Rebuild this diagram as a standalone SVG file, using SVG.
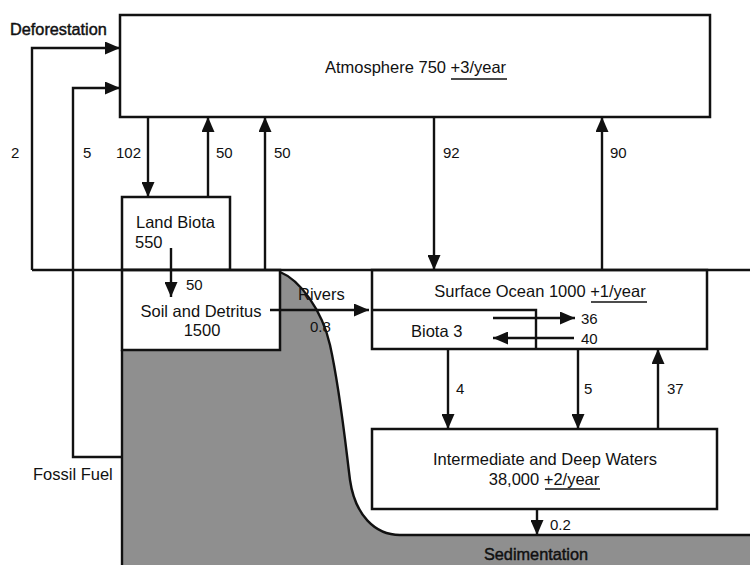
<svg xmlns="http://www.w3.org/2000/svg" width="750" height="565" viewBox="0 0 750 565">
<style>
.box{fill:#fff;stroke:#111;stroke-width:2.5}
.ln{fill:none;stroke:#111;stroke-width:2.4}
.t{font-family:"Liberation Sans",Arial,sans-serif;font-size:16.5px;fill:#111}
.n{font-family:"Liberation Sans",Arial,sans-serif;font-size:15px;fill:#111}
.b{font-family:"Liberation Sans",Arial,sans-serif;font-size:16.3px;fill:#111;stroke:#111;stroke-width:0.45}
.m{text-anchor:middle}
</style>
<defs>
<marker id="ah" markerUnits="userSpaceOnUse" viewBox="0 0 15 13" refX="15" refY="6.5" markerWidth="15" markerHeight="13" orient="auto">
<path d="M0,0 L15,6.5 L0,13 Z" fill="#111"/>
</marker>
</defs>
<rect width="750" height="565" fill="#fff"/>

<g id="ground">
<path d="M280,272 C300,280 322,310 330,345 C340,390 345,440 350,480 C355,515 375,535 400,535 L750,535 L750,565 L122,565 L122,350 L280,350 Z" fill="#8f8f8f"/>
<path class="ln" d="M280,272 C300,280 322,310 330,345 C340,390 345,440 350,480 C355,515 375,535 400,535 L750,535"/>
<line class="ln" x1="122" y1="350" x2="122" y2="565"/>
<text class="b m" x="536" y="560">Sedimentation</text>
</g>

<g id="atmosphere">
<rect class="box" x="120" y="15" width="590" height="102"/>
<text class="t m" x="415.5" y="73">Atmosphere 750 +3/year</text>
<line x1="451" y1="79" x2="507" y2="79" stroke="#111" stroke-width="1.5"/>
</g>

<g id="land-biota">
<rect class="box" x="122" y="197" width="108" height="73"/>
<text class="t" x="136" y="228">Land Biota</text>
<text class="t" x="135" y="248">550</text>
</g>

<g id="soil">
<rect class="box" x="122" y="270" width="158" height="80"/>
<text class="t m" x="201" y="317">Soil and Detritus</text>
<text class="t m" x="202" y="336">1500</text>
</g>

<g id="surface-ocean">
<rect class="box" x="372" y="270" width="335" height="79"/>
<text class="t m" x="540" y="297">Surface Ocean 1000 +1/year</text>
<line x1="591" y1="302" x2="647" y2="302" stroke="#111" stroke-width="1.5"/>
<polyline class="ln" points="372,310 536,310 536,349"/>
<text class="t" x="411" y="337">Biota 3</text>
</g>

<g id="deep-waters">
<rect class="box" x="372" y="429" width="345" height="80"/>
<text class="t m" x="545" y="465">Intermediate and Deep Waters</text>
<text class="t m" x="544" y="485">38,000 +2/year</text>
<line x1="545" y1="489" x2="600" y2="489" stroke="#111" stroke-width="1.5"/>
</g>

<g id="connectors">
<line class="ln" x1="32" y1="270" x2="750" y2="270"/>
<polyline class="ln" points="32,270 32,48 120,48" marker-end="url(#ah)"/>
<polyline class="ln" points="122,457 73,457 73,88 120,88" marker-end="url(#ah)"/>
<line class="ln" x1="148" y1="117" x2="148" y2="197" marker-end="url(#ah)"/>
<line class="ln" x1="208" y1="197" x2="208" y2="117" marker-end="url(#ah)"/>
<line class="ln" x1="265" y1="270" x2="265" y2="117" marker-end="url(#ah)"/>
<line class="ln" x1="171" y1="248" x2="171" y2="297" marker-end="url(#ah)"/>
<line class="ln" x1="270" y1="310" x2="369" y2="310" marker-end="url(#ah)"/>
<line class="ln" x1="434" y1="117" x2="434" y2="270" marker-end="url(#ah)"/>
<line class="ln" x1="602" y1="270" x2="602" y2="117" marker-end="url(#ah)"/>
<line class="ln" x1="493" y1="318" x2="575" y2="318" marker-end="url(#ah)"/>
<line class="ln" x1="574" y1="338" x2="493" y2="338" marker-end="url(#ah)"/>
<line class="ln" x1="448" y1="349" x2="448" y2="429" marker-end="url(#ah)"/>
<line class="ln" x1="578" y1="349" x2="578" y2="429" marker-end="url(#ah)"/>
<line class="ln" x1="658" y1="429" x2="658" y2="349" marker-end="url(#ah)"/>
<line class="ln" x1="537" y1="509" x2="537" y2="535" marker-end="url(#ah)"/>

<text class="b" x="10" y="35">Deforestation</text>
<text class="t" x="33" y="480">Fossil Fuel</text>
<text class="n" x="11" y="158">2</text>
<text class="n" x="83" y="158">5</text>
<text class="n" x="116" y="158">102</text>
<text class="n" x="216" y="158">50</text>
<text class="n" x="274" y="158">50</text>
<text class="n" x="186" y="290">50</text>
<text class="n" x="443" y="158">92</text>
<text class="n" x="610" y="158">90</text>
<text class="t" x="298" y="300">Rivers</text>
<text class="n" x="310" y="332">0.8</text>
<text class="n" x="581" y="324">36</text>
<text class="n" x="581" y="344">40</text>
<text class="n" x="456" y="394">4</text>
<text class="n" x="584" y="394">5</text>
<text class="n" x="667" y="394">37</text>
<text class="n" x="550" y="530">0.2</text>
</g>
</svg>
